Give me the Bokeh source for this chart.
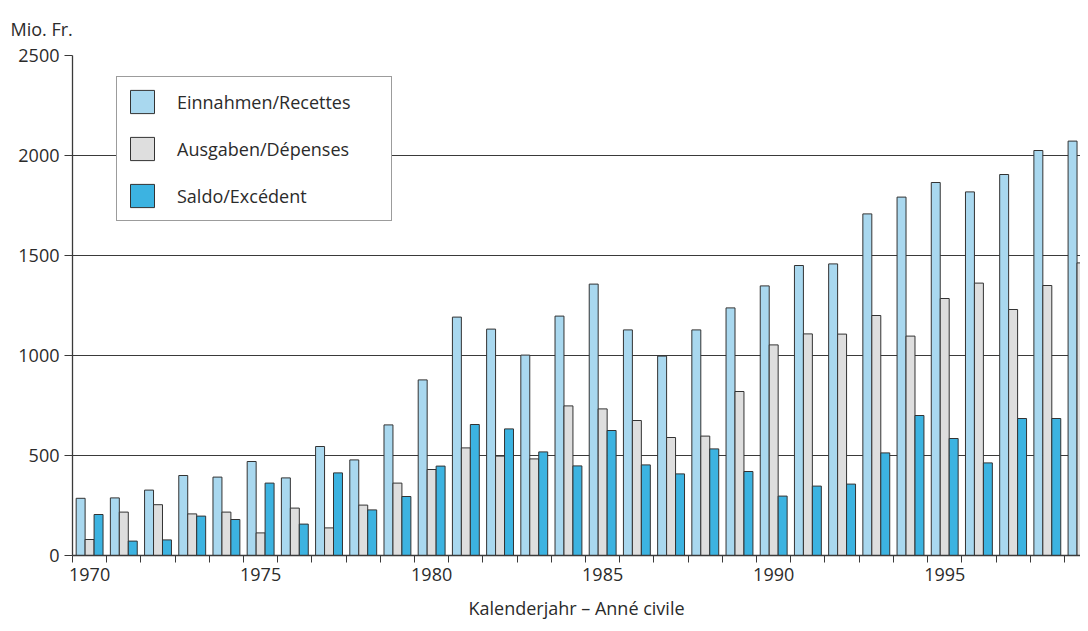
from bokeh.plotting import figure
from bokeh.models import ColumnDataSource, Range1d, FixedTicker, Legend
from bokeh.transform import dodge
from bokeh.embed import file_html
from bokeh.resources import INLINE

years = list(range(1970, 2000))
einnahmen = [286, 288, 327, 400, 392, 470, 388, 545, 478, 653,
             878, 1192, 1132, 1002, 1197, 1357, 1128, 997, 1128, 1238,
             1348, 1450, 1458, 1708, 1792, 1865, 1818, 1905, 2025, 2072]
ausgaben = [80, 217, 254, 208, 217, 113, 237, 138, 252, 362,
            430, 538, 497, 483, 748, 733, 675, 590, 597, 820,
            1053, 1108, 1107, 1200, 1097, 1285, 1362, 1230, 1350, 1463]
saldo = [205, 72, 78, 197, 180, 362, 157, 413, 228, 295,
         447, 655, 633, 518, 448, 625, 453, 408, 533, 420,
         297, 347, 357, 513, 700, 585, 463, 685, 685, 617]
series_labels = ["Einnahmen/Recettes", "Ausgaben/Dépenses", "Saldo/Excédent"]
x_tick_labels = [1970, 1975, 1980, 1985, 1990, 1995]
y_ticks = [0, 500, 1000, 1500, 2000, 2500]

FONT = "Open Sans"
TXT = "#2b2b2b"
LINE = "#3a3a3a"

src = ColumnDataSource(dict(year=years, ein=einnahmen, aus=ausgaben, sal=saldo))

p = figure(width=1080, height=623, output_backend="svg", toolbar_location=None,
           x_range=Range1d(1969.5, 1998.97), y_range=Range1d(0, 2500),
           min_border_left=72, min_border_right=0, min_border_top=55, min_border_bottom=68)
p.outline_line_color = None
p.background_fill_color = "white"

w = 0.262
specs = [("ein", -0.262, "#a9d8ef", series_labels[0]),
         ("aus", 0.0, "#dedede", series_labels[1]),
         ("sal", 0.262, "#3cb3e1", series_labels[2])]
renderers = []
for col, off, color, lab in specs:
    r = p.vbar(x=dodge("year", off, range=p.x_range), top=col, bottom=0, width=w, source=src,
               fill_color=color, line_color="#333333", line_width=1)
    renderers.append((lab, [r]))

# title
p.title.text = "Mio. Fr."
p.title.align = "left"
p.title.offset = -62
p.title.text_font = FONT
p.title.text_font_size = "18px"
p.title.text_font_style = "normal"
p.title.text_color = TXT
p.title.standoff = 29

# x axis
xa = p.xaxis[0]
xa.ticker = FixedTicker(ticks=x_tick_labels, minor_ticks=[y - 0.5 for y in years] + [years[-1] + 0.5])
xa.major_tick_out = 0
xa.major_tick_in = 0
xa.minor_tick_out = 7
xa.minor_tick_in = 0
xa.minor_tick_line_color = LINE
xa.axis_line_color = LINE
xa.axis_line_width = 1.3
xa.major_label_text_font = FONT
xa.major_label_text_font_size = "18px"
xa.major_label_text_color = TXT
xa.major_label_standoff = 5
xa.axis_label = "Kalenderjahr – Anné civile"
xa.axis_label_text_font = FONT
xa.axis_label_text_font_size = "18px"
xa.axis_label_text_font_style = "normal"
xa.axis_label_text_color = TXT
xa.axis_label_standoff = 12

# y axis
ya = p.yaxis[0]
ya.ticker = FixedTicker(ticks=y_ticks)
ya.major_tick_out = 8
ya.major_tick_in = 0
ya.minor_tick_out = 0
ya.minor_tick_in = 0
ya.major_tick_line_color = LINE
ya.axis_line_color = LINE
ya.axis_line_width = 1.3
ya.major_label_text_font = FONT
ya.major_label_text_font_size = "18px"
ya.major_label_text_color = TXT
ya.major_label_standoff = 5

p.xgrid.grid_line_color = None
p.ygrid.ticker = FixedTicker(ticks=y_ticks[1:])
p.ygrid.grid_line_color = LINE
p.ygrid.grid_line_width = 1.2

legend = Legend(items=renderers, location=(44, 334))
legend.padding = 10
legend.margin = 0
legend.spacing = 18
legend.glyph_width = 30
legend.glyph_height = 29
legend.label_height = 29
legend.label_width = 204
legend.label_standoff = 20
legend.label_text_font = FONT
legend.label_text_font_size = "18px"
legend.label_text_color = TXT
legend.border_line_color = LINE
legend.border_line_width = 1.2
legend.background_fill_color = "white"
legend.background_fill_alpha = 1.0
p.add_layout(legend, "center")

open("out.html", "w").write(file_html(p, INLINE))
